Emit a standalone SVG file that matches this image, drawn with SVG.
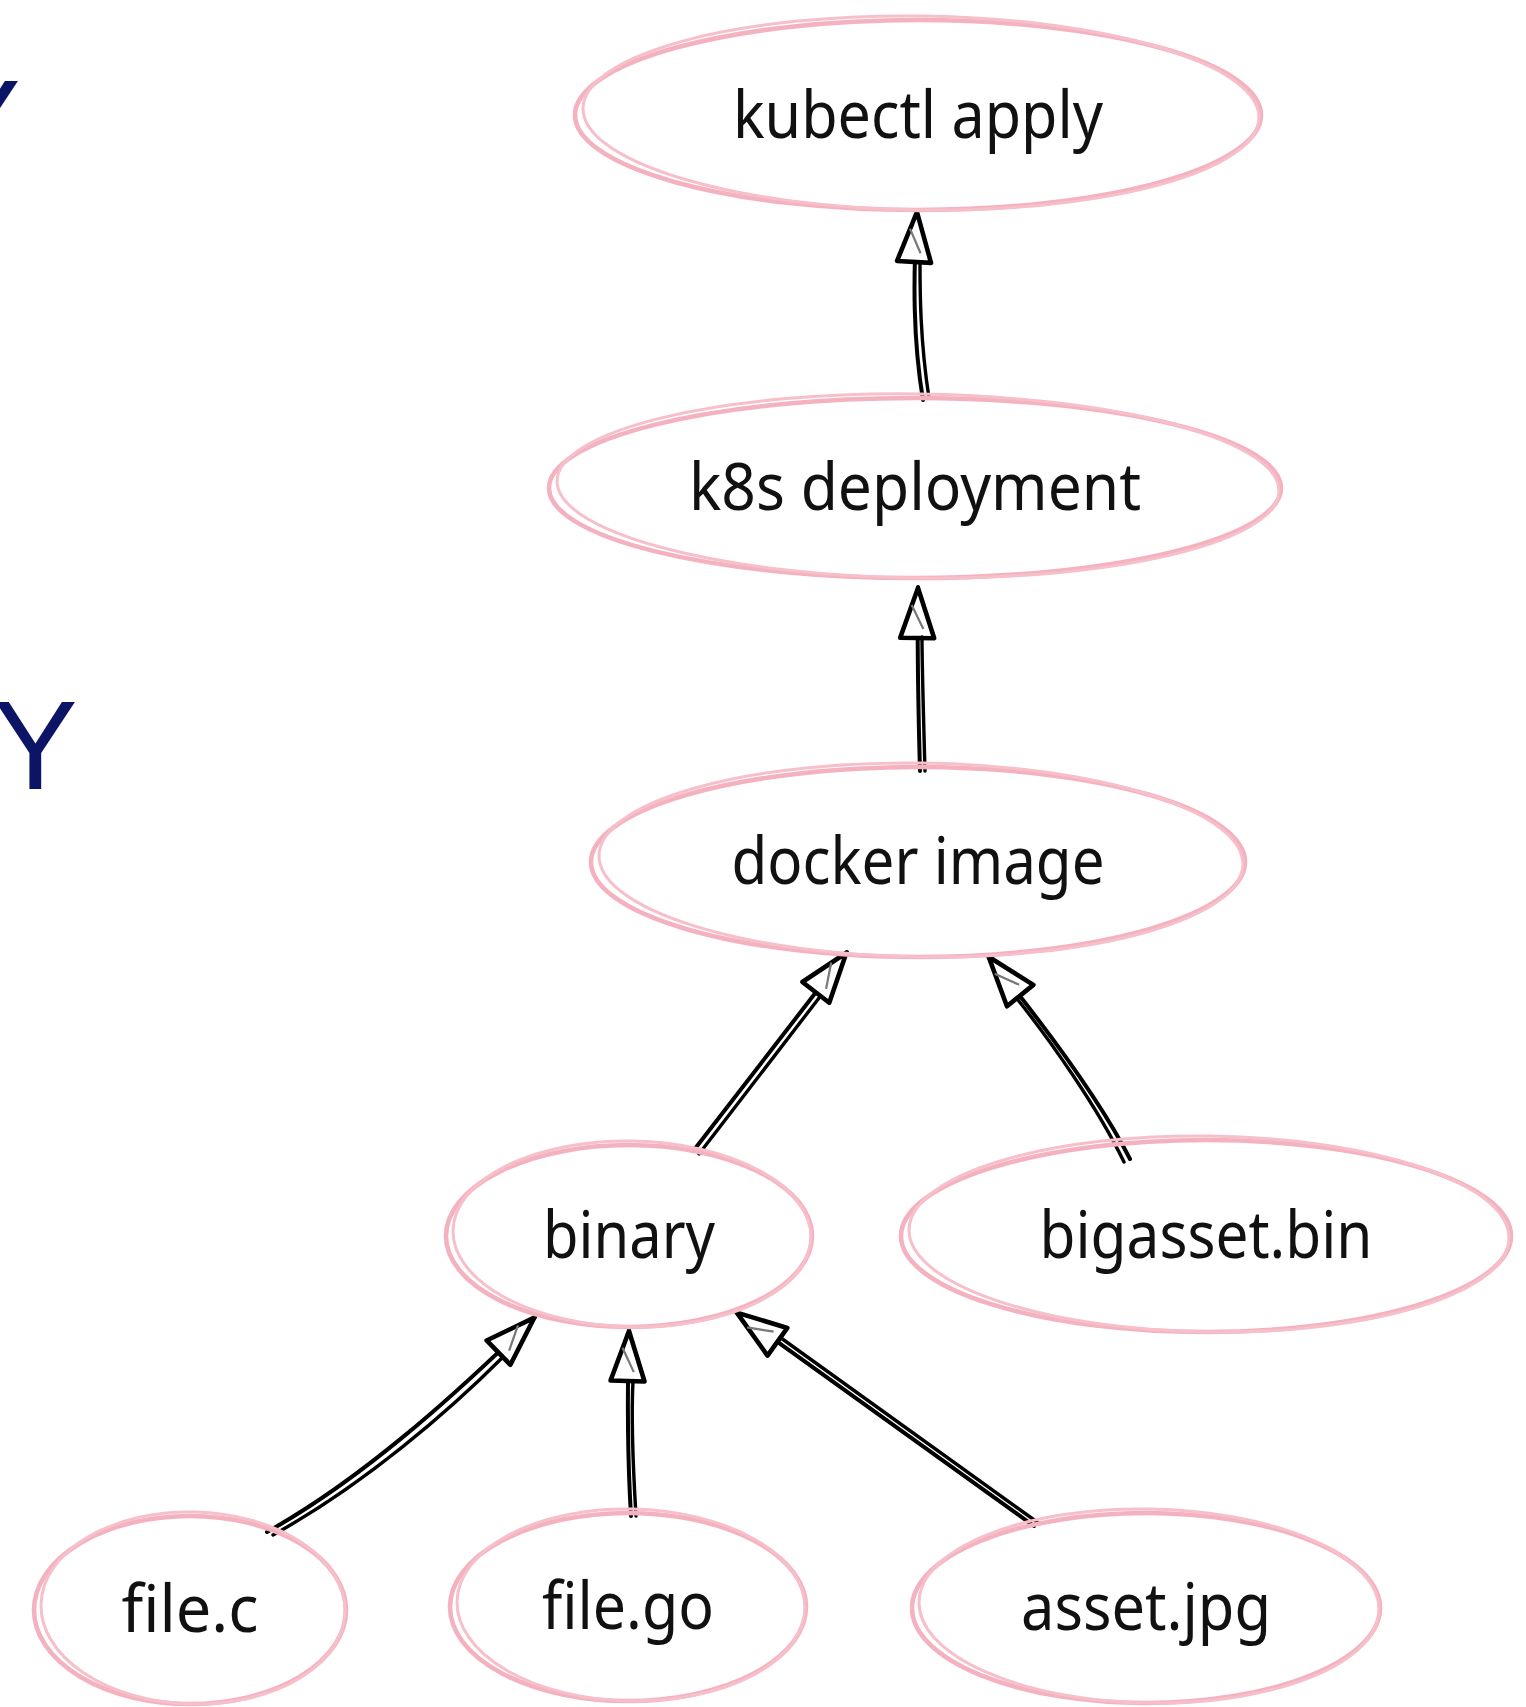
<svg xmlns="http://www.w3.org/2000/svg" width="1526" height="1707" viewBox="0 0 1526 1707">
<style>
.bg{fill:#ffffff}
.e1{fill:none;stroke:#f4b2c0;stroke-width:4.6}
.e2{fill:none;stroke:#f6bfca;stroke-width:3}
.lbl{font-family:"Noto Sans","Open Sans",sans-serif;font-size:66px;fill:#111111;text-anchor:middle}
.side{font-family:"Liberation Sans",Arial,sans-serif;font-size:127px;fill:#0c1466}
.c1{fill:none;stroke:#000000;stroke-width:4;stroke-linecap:round}
.c2{fill:none;stroke:#000000;stroke-width:3.4;stroke-linecap:round}
</style>
<defs>
<marker id="hd" viewBox="0 0 56 40" refX="54" refY="20" markerWidth="56" markerHeight="40" markerUnits="userSpaceOnUse" orient="auto">
<path d="M3,3 L53,20 L3,37 Z" fill="#ffffff" stroke="#000000" stroke-width="4.6" stroke-linejoin="round"/>
<path d="M12,26 L36,14" stroke="#777777" stroke-width="2.2" fill="none"/>
</marker>
</defs>
<rect class="bg" x="0" y="0" width="1526" height="1707"/>

<text class="side" x="-64" y="168">Y</text>
<text class="side" x="-7" y="789">Y</text>

<g id="connectors">
<path class="c1" d="M923,400 C913,340 913,280 917,211" marker-end="url(#hd)"/>
<path class="c2" d="M929,398 C920,340 920,290 920,262"/>

<path class="c1" d="M920,771 C918,700 917,650 918,587" marker-end="url(#hd)"/>
<path class="c2" d="M925,771 C923,700 922,660 922,637"/>

<path class="c1" d="M694,1150 L847,952" marker-end="url(#hd)"/>
<path class="c2" d="M699,1154 L819,998"/>

<path class="c1" d="M1130,1159 C1100,1100 1040,1020 988,956" marker-end="url(#hd)"/>
<path class="c2" d="M1124,1162 C1098,1108 1050,1040 1018,1000"/>

<path class="c1" d="M267,1532 C360,1480 450,1400 535,1317" marker-end="url(#hd)"/>
<path class="c2" d="M273,1535 C365,1484 450,1410 502,1358"/>

<path class="c1" d="M631,1516 C627,1450 627,1400 629,1330" marker-end="url(#hd)"/>
<path class="c2" d="M636,1516 C632,1450 632,1400 633,1381"/>

<path class="c1" d="M1034,1526 L736,1312" marker-end="url(#hd)"/>
<path class="c2" d="M1037,1522 L781,1338"/>
</g>

<g id="n-kubectl">
<ellipse class="e1" cx="918" cy="115" rx="343" ry="95"/>
<ellipse class="e2" cx="921" cy="113" rx="338" ry="97" transform="rotate(0.8 921 113)"/>
<text class="lbl" x="918" y="138" textLength="370" lengthAdjust="spacingAndGlyphs">kubectl apply</text>
</g>

<g id="n-k8s">
<ellipse class="e1" cx="915" cy="488" rx="366" ry="90"/>
<ellipse class="e2" cx="918" cy="486" rx="361" ry="92" transform="rotate(0.8 918 486)"/>
<text class="lbl" x="915" y="510" textLength="452" lengthAdjust="spacingAndGlyphs">k8s deployment</text>
</g>

<g id="n-docker">
<ellipse class="e1" cx="918" cy="862" rx="327" ry="95"/>
<ellipse class="e2" cx="921" cy="860" rx="322" ry="97" transform="rotate(0.8 921 860)"/>
<text class="lbl" x="918" y="884" textLength="373" lengthAdjust="spacingAndGlyphs">docker image</text>
</g>

<g id="n-binary">
<ellipse class="e1" cx="629" cy="1236" rx="183" ry="91"/>
<ellipse class="e2" cx="632" cy="1234" rx="179" ry="93" transform="rotate(1.2 632 1234)"/>
<text class="lbl" x="629" y="1258" textLength="172" lengthAdjust="spacingAndGlyphs">binary</text>
</g>

<g id="n-bigasset">
<ellipse class="e1" cx="1206" cy="1236" rx="305" ry="96"/>
<ellipse class="e2" cx="1209" cy="1234" rx="300" ry="98" transform="rotate(0.8 1209 1234)"/>
<text class="lbl" x="1206" y="1258" textLength="333" lengthAdjust="spacingAndGlyphs">bigasset.bin</text>
</g>

<g id="n-filec">
<ellipse class="e1" cx="190" cy="1610" rx="156" ry="94"/>
<ellipse class="e2" cx="193" cy="1608" rx="152" ry="96" transform="rotate(1.5 193 1608)"/>
<text class="lbl" x="190" y="1632" textLength="137" lengthAdjust="spacingAndGlyphs">file.c</text>
</g>

<g id="n-filego">
<ellipse class="e1" cx="628" cy="1607" rx="178" ry="94"/>
<ellipse class="e2" cx="631" cy="1605" rx="174" ry="96" transform="rotate(1.2 631 1605)"/>
<text class="lbl" x="628" y="1629" textLength="172" lengthAdjust="spacingAndGlyphs">file.go</text>
</g>

<g id="n-asset">
<ellipse class="e1" cx="1146" cy="1608" rx="234" ry="95"/>
<ellipse class="e2" cx="1149" cy="1606" rx="230" ry="97" transform="rotate(1 1149 1606)"/>
<text class="lbl" x="1146" y="1630" textLength="250" lengthAdjust="spacingAndGlyphs">asset.jpg</text>
</g>
</svg>
